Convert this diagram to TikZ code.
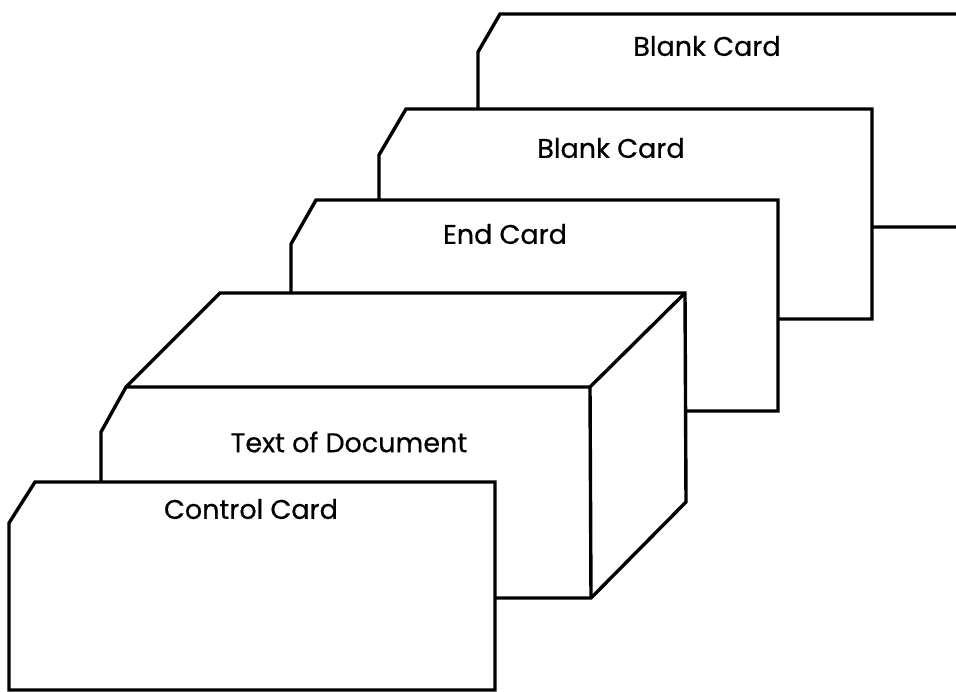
\documentclass[tikz,border=0pt]{standalone}
\usepackage{fontspec}
\setmainfont{Poppins}[FakeBold=0.5]
\tikzset{
  card/.style={draw=black, fill=white, line width=3.4pt, line join=miter},
  cardlabel/.style={inner sep=0pt, anchor=center, font=\fontsize{27}{32}\selectfont},
}
\begin{document}
\begin{tikzpicture}[x=1pt, y=-1pt]
  \useasboundingbox (0,0) rectangle (956,692);
  \clip (0,0) rectangle (956,692);
  \fill[white] (0,0) rectangle (956,692);

  % back blank card, running off the right edge
  \draw[card] (478,52) -- (500,14) -- (990,14) -- (990,227) -- (478,227) -- cycle;
  \node[cardlabel] (blank1) at (707,46) {Blank Card};

  % second blank card
  \draw[card] (379,155) -- (406,109) -- (872,109) -- (872,319) -- (379,319) -- cycle;
  \node[cardlabel] (blank2) at (611,148) {Blank Card};

  % end card
  \draw[card] (291,244) -- (316,200) -- (778,200) -- (778,411) -- (291,411) -- cycle;
  \node[cardlabel] (endcard) at (505,234) {End Card};

  % the deck holding the document text, drawn as a block
  \draw[card] (101,432) -- (126,387) -- (220,293) -- (685,293) -- (686,502)
              -- (591,598) -- (101,598) -- cycle;
  \draw[card, fill=none] (126,387) -- (590,387) -- (685,293);
  \draw[card, fill=none] (590,387) -- (591,598);
  \node[cardlabel] (text) at (349,442) {Text of Document};

  % control card in front
  \draw[card] (9,523) -- (35,482) -- (495,482) -- (495,690) -- (9,690) -- cycle;
  \node[cardlabel] (control) at (251,509) {Control Card};
\end{tikzpicture}
\end{document}
